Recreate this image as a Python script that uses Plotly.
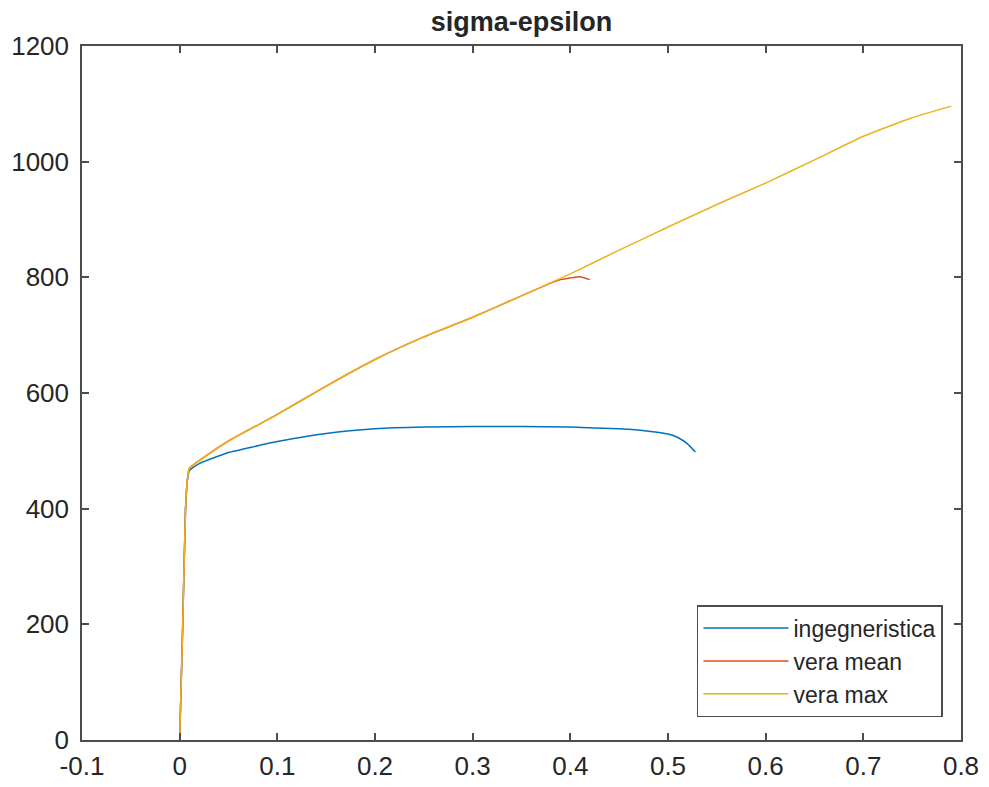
import plotly.graph_objects as go

# ingegneristica (engineering curve)
eps_ing = [0.0, 0.003, 0.006, 0.008, 0.01, 0.02, 0.05, 0.1, 0.15, 0.2, 0.25, 0.3,
           0.35, 0.4, 0.45, 0.48, 0.5, 0.51, 0.52, 0.528]
sig_ing = [0, 190, 400, 450, 466, 478, 497, 516, 530, 538, 541, 542,
           542, 541, 538, 534, 529, 523, 512, 498]

# vera mean
eps_mean = [0.0, 0.003, 0.006, 0.008, 0.01, 0.02, 0.05, 0.1, 0.15, 0.2, 0.25, 0.3,
            0.35, 0.38, 0.39, 0.40, 0.41, 0.42]
sig_mean = [0, 190, 400, 452, 470, 483, 517, 563, 612, 658, 697, 731,
            768, 790, 796, 799, 801, 796]

# vera max
eps_max = [0.0, 0.003, 0.006, 0.008, 0.01, 0.02, 0.05, 0.1, 0.15, 0.2, 0.25, 0.3,
           0.35, 0.4, 0.45, 0.5, 0.55, 0.6, 0.65, 0.7, 0.75, 0.79]
sig_max = [0, 190, 400, 452, 470, 483, 517, 563, 612, 658, 697, 731,
           768, 806, 847, 887, 926, 963, 1003, 1044, 1076, 1096]

x_ticks = [-0.1, 0, 0.1, 0.2, 0.3, 0.4, 0.5, 0.6, 0.7, 0.8]
x_labels = ["-0.1", "0", "0.1", "0.2", "0.3", "0.4", "0.5", "0.6", "0.7", "0.8"]
y_ticks = [0, 200, 400, 600, 800, 1000, 1200]

FONT = "Liberation Sans, Arial, sans-serif"
TXT = "#262626"

fig = go.Figure()
fig.add_trace(go.Scatter(x=eps_ing, y=sig_ing, mode="lines", name="ingegneristica",
                         line=dict(color="#0072BD", width=1.5, shape="spline", smoothing=0.4)))
fig.add_trace(go.Scatter(x=eps_mean, y=sig_mean, mode="lines", name="vera mean",
                         line=dict(color="#D95319", width=1.5, shape="spline", smoothing=0.4)))
fig.add_trace(go.Scatter(x=eps_max, y=sig_max, mode="lines", name="vera max",
                         line=dict(color="#EDB120", width=1.5, shape="spline", smoothing=0.4)))

axis_common = dict(showgrid=False, zeroline=False, showline=True, linecolor="#4d4d4d",
                   linewidth=1.5, mirror="ticks", ticks="inside", ticklen=7,
                   tickcolor="#4d4d4d", tickwidth=1.5, automargin=False,
                   tickfont=dict(family=FONT, size=26, color=TXT))

fig.update_layout(
    width=989, height=787,
    paper_bgcolor="white", plot_bgcolor="white",
    margin=dict(l=82, r=28, t=46, b=47),
    title=dict(text="<b>sigma-epsilon</b>", x=(82 + 961) / 2 / 989, xanchor="center",
               y=1 - 22 / 787, yanchor="middle",
               font=dict(family=FONT, size=27, color=TXT)),
    xaxis=dict(range=[-0.1, 0.8], tickvals=x_ticks, ticktext=x_labels,
               ticklabelstandoff=2, **axis_common),
    yaxis=dict(range=[0, 1200], tickvals=y_ticks, ticklabelstandoff=6, **axis_common),
    legend=dict(x=0.9795, y=0.033, xanchor="right", yanchor="bottom",
                bgcolor="white", bordercolor="#4d4d4d", borderwidth=1.5,
                font=dict(family=FONT, size=23, color=TXT),
                itemwidth=85, tracegroupgap=0),
    showlegend=True,
)

fig.write_html("out.html")
